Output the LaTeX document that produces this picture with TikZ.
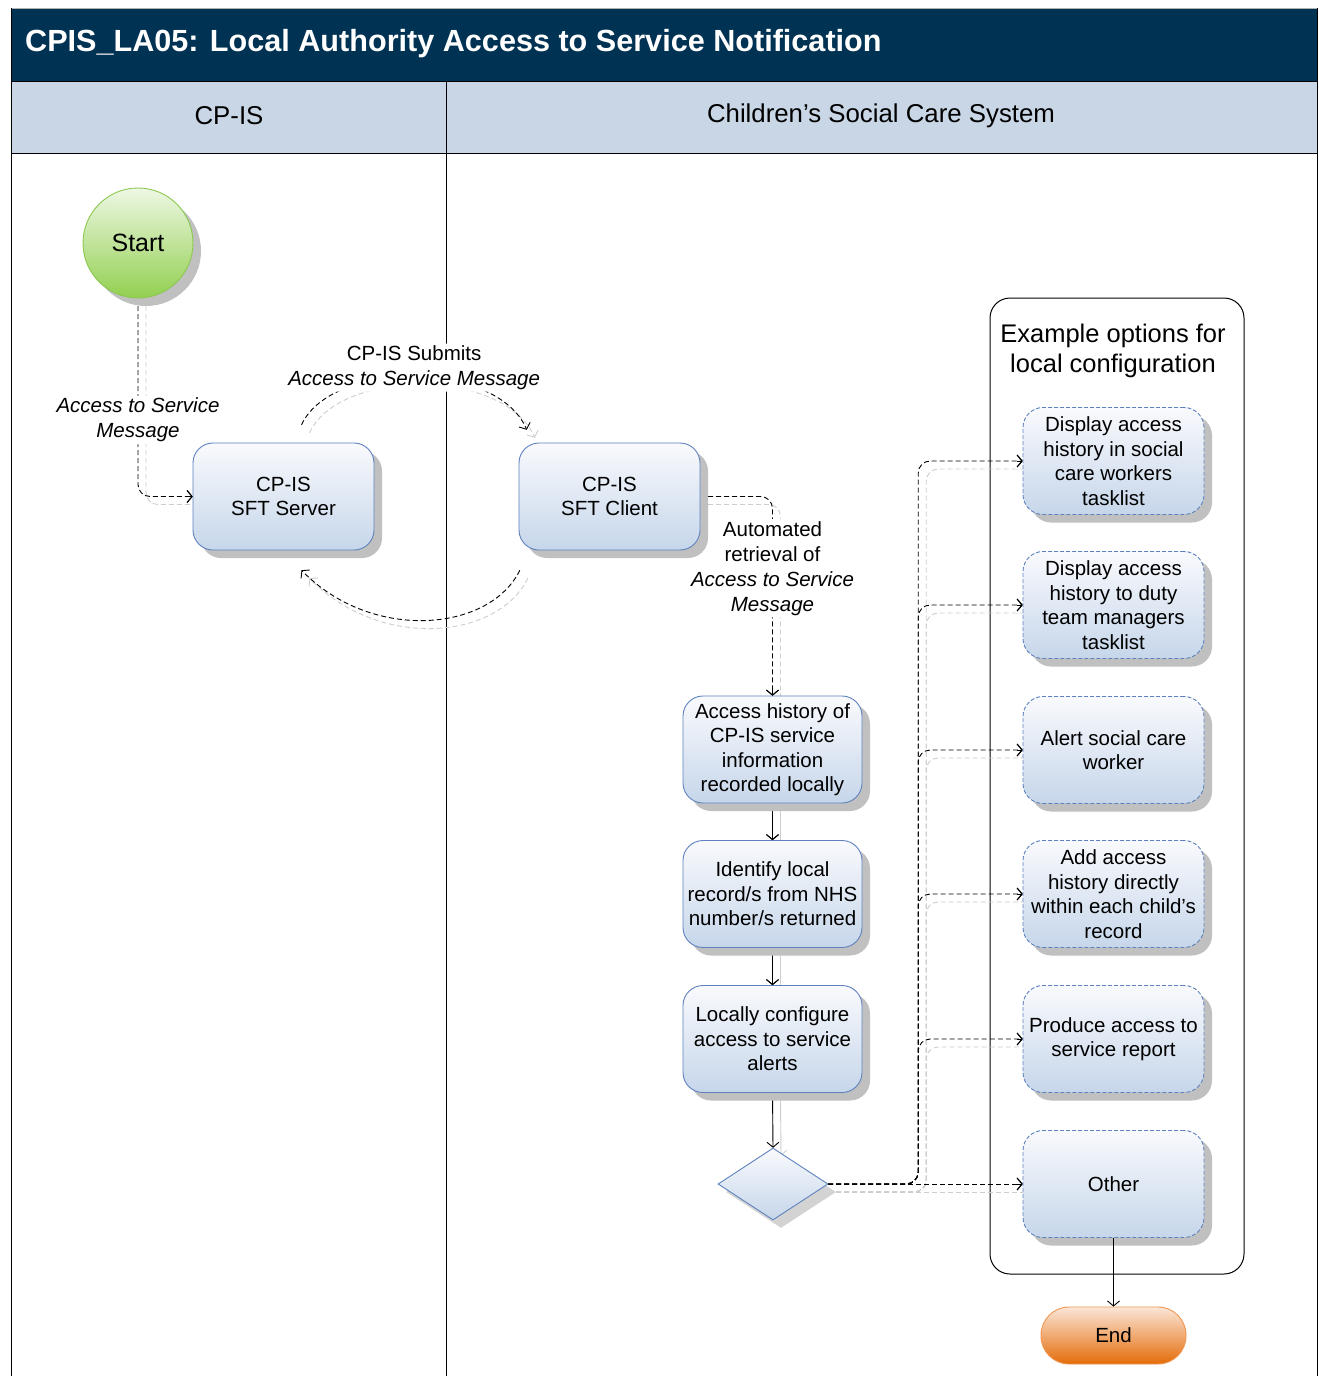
\documentclass[tikz,border=0pt]{standalone}
\usepackage{fontspec}
\setmainfont{Liberation Sans}
\usetikzlibrary{shapes.geometric,shadows,calc,arrows.meta}
\definecolor{navy}{RGB}{0,50,83}
\definecolor{headbg}{RGB}{201,214,230}
\definecolor{boxblue}{RGB}{95,130,190}
\definecolor{boxtop}{RGB}{249,250,253}
\definecolor{boxbot}{RGB}{198,214,234}
\definecolor{shadowgray}{RGB}{192,192,192}
\definecolor{shadowline}{RGB}{205,205,205}
\definecolor{greentop}{RGB}{238,247,228}
\definecolor{greenbot}{RGB}{146,208,80}
\definecolor{greenline}{RGB}{140,200,80}
\definecolor{orangetop}{RGB}{251,230,215}
\definecolor{orangebot}{RGB}{228,108,10}
\definecolor{orangeline}{RGB}{240,150,80}
\newcommand\fs[2]{\fontsize{#1}{#2}\selectfont}
\newcommand\TxtA{\itshape Access to Service\\\itshape Message}
\newcommand\TxtB{CP-IS Submits\\\itshape Access to Service Message}
\newcommand\TxtC{Automated\\retrieval of\\\itshape Access to Service\\\itshape Message}
\newcommand\allconns{%
  \draw[conn] (start.south) |- node[lbl,pos=0.307]{\TxtA} (server.west);
  \draw[conn] ($(server.north)+(18,-18)$) .. controls +(30,-65) and +(-30,-70) .. node[lbl,pos=0.5,yshift=9pt]{\TxtB} ($(client.north west)+(8,-13)$);
  \draw[conn] ($(client.south west)+(1,20)$) .. controls +(-30,62) and +(70,72) .. ($(server.south)+(18,20)$);
  \draw[conn] (client.east) -| node[lbl,pos=0.68]{\TxtC} (p1.north);
  \draw[solidconn] (p1.south) -- (p2.north);
  \draw[solidconn] (p2.south) -- (p3.north);
  \draw[solidconn] (p3.south) -- (dia.north);
  \foreach \o in {o1,o2,o3,o4,o5}{\draw[conn] (dia.east) -- ++(90,0) |- (\o.west);}
  \draw[conn] (dia.east) -- (o6.west);
}
\begin{document}
\begin{tikzpicture}[x=1pt,y=-1pt,
  connc/.style={draw=black},
  conn/.style={connc,line width=0.9pt,dash pattern=on 5pt off 3pt,rounded corners=12pt,-{Straight Barb[length=5pt,width=12pt]}},
  solidconn/.style={connc,line width=0.9pt,-{Straight Barb[length=5pt,width=12pt]}},
  lblbase/.style={font=\fs{20.5}{25}, align=center, inner sep=2pt},
  lbl/.style={lblbase, fill=white},
  proc/.style={rounded corners=20pt, draw=boxblue, line width=0.9pt, top color=boxtop, bottom color=boxbot, minimum width=181pt, minimum height=107pt, align=center, inner sep=1pt, font=\fs{20.5}{24.5}, drop shadow={shadow xshift=8pt, shadow yshift=-8pt, fill=shadowgray, opacity=1}},
  optbox/.style={proc, dash pattern=on 4pt off 2pt},
]
\useasboundingbox (0,0) rectangle (1319,1376);
% frame
\fill[white] (0,0) rectangle (1319,1376);
\fill[navy] (11,8) rectangle (1317,81);
\draw[gray!60, line width=1pt] (11,8) -- (1317,8);
\fill[headbg] (11,81) rectangle (1317,153);
\draw[line width=1pt] (11,81) -- (1317,81);
\draw[line width=1pt] (11,153) -- (1317,153);
\draw[line width=1pt] (11,8) -- (11,1376);
\draw[line width=1pt] (1317,8) -- (1317,1376);
\draw[line width=1pt] (446,81) -- (446,1376);
\node[anchor=west, text=white, font=\bfseries\fs{30.6}{36}, inner sep=0] (title) at (25,44) {CPIS\_LA05: Local Authority Access to Service Notification};
\node[font=\fs{25.8}{30}] (lane1) at (229,116) {CP-IS};
\node[font=\fs{25.8}{30}] (lane2) at (881,116) {Children’s Social Care System};
% container
\node[draw, line width=1pt, rounded corners=20pt, minimum width=254pt, minimum height=976pt] (cont) at (1117,786) {};
\node[font=\fs{25.5}{30}, align=center] (conttitle) at (1113,351) {Example options for\\local configuration};
% placeholder nodes so connectors can be drawn beneath the visible nodes
\begin{scope}[overlay]
\node[circle, minimum size=110pt] (start) at (138,243) {};
\node[minimum width=181pt, minimum height=107pt] (server) at (283.5,496.5) {};
\node[minimum width=181pt, minimum height=107pt] (client) at (609.5,496.5) {};
\node[minimum width=179pt, minimum height=107pt] (p1) at (772.5,749.5) {};
\node[minimum width=179pt, minimum height=107pt] (p2) at (772.5,894) {};
\node[minimum width=179pt, minimum height=107pt] (p3) at (772.5,1039) {};
\node[diamond, minimum width=110pt, minimum height=72pt, inner sep=0pt] (dia) at (773,1184) {};
\node[minimum width=181pt, minimum height=107pt] (o1) at (1113.5,461) {};
\node[minimum width=181pt, minimum height=107pt] (o2) at (1113.5,605) {};
\node[minimum width=181pt, minimum height=107pt] (o3) at (1113.5,750) {};
\node[minimum width=181pt, minimum height=107pt] (o4) at (1113.5,894) {};
\node[minimum width=181pt, minimum height=107pt] (o5) at (1113.5,1039) {};
\node[minimum width=181pt, minimum height=107pt] (o6) at (1113.5,1184) {};
\end{scope}
% connectors: light shadow copies (labels left empty), then black ones
\begin{scope}[transform canvas={shift={(8pt,-8pt)}}, connc/.style={draw=shadowline}, lbl/.style={inner sep=0pt}]
\renewcommand\TxtA{}\renewcommand\TxtB{}\renewcommand\TxtC{}
\allconns
\end{scope}
\allconns
% visible nodes
\node[circle, draw=greenline, line width=0.9pt, top color=greentop, bottom color=greenbot, minimum size=110pt, font=\fs{25}{30}, drop shadow={shadow xshift=8pt, shadow yshift=-8pt, fill=shadowgray, opacity=1}] (start) at (138,243) {Start};
\node[proc] (server) at (283.5,496.5) {CP-IS\\SFT Server};
\node[proc] (client) at (609.5,496.5) {CP-IS\\SFT Client};
\node[proc, minimum width=179pt] (p1) at (772.5,749.5) {Access history of\\CP-IS service\\information\\recorded locally};
\node[proc, minimum width=179pt] (p2) at (772.5,894) {Identify local\\record/s from NHS\\number/s returned};
\node[proc, minimum width=179pt] (p3) at (772.5,1039) {Locally configure\\access to service\\alerts};
\node[diamond, draw=boxblue, line width=0.9pt, top color=boxtop, bottom color=boxbot, minimum width=110pt, minimum height=72pt, inner sep=0pt, drop shadow={shadow xshift=8pt, shadow yshift=-8pt, fill=shadowgray!70, opacity=1}] (dia) at (773,1184) {};
\node[optbox] (o1) at (1113.5,461) {Display access\\history in social\\care workers\\tasklist};
\node[optbox] (o2) at (1113.5,605) {Display access\\history to duty\\team managers\\tasklist};
\node[optbox] (o3) at (1113.5,750) {Alert social care\\worker};
\node[optbox] (o4) at (1113.5,894) {Add access\\history directly\\within each child’s\\record};
\node[optbox] (o5) at (1113.5,1039) {Produce access to\\service report};
\node[optbox] (o6) at (1113.5,1184) {Other};
\node[draw=orangeline, line width=0.9pt, rounded corners=28pt, top color=orangetop, bottom color=orangebot, minimum width=145pt, minimum height=57pt, font=\fs{20.5}{24}] (endn) at (1113.5,1335.5) {End};
% black arrowheads redrawn above the nodes
\begin{scope}[conn/.style={connc,line width=0.9pt,-{Straight Barb[length=5pt,width=12pt]}}]
\draw[conn] ($(server.west)+(-6,0)$) -- (server.west);
\draw[conn] ($(p1.north)+(0,-6)$) -- (p1.north);
\draw[conn] ($(p2.north)+(0,-6)$) -- (p2.north);
\draw[conn] ($(p3.north)+(0,-6)$) -- (p3.north);
\foreach \o in {o1,o2,o3,o4,o5,o6}{\draw[conn] ($(\o.west)+(-6,0)$) -- (\o.west);}
\end{scope}
\draw[solidconn] (o6.south) -- (endn.north);
\end{tikzpicture}
\end{document}
